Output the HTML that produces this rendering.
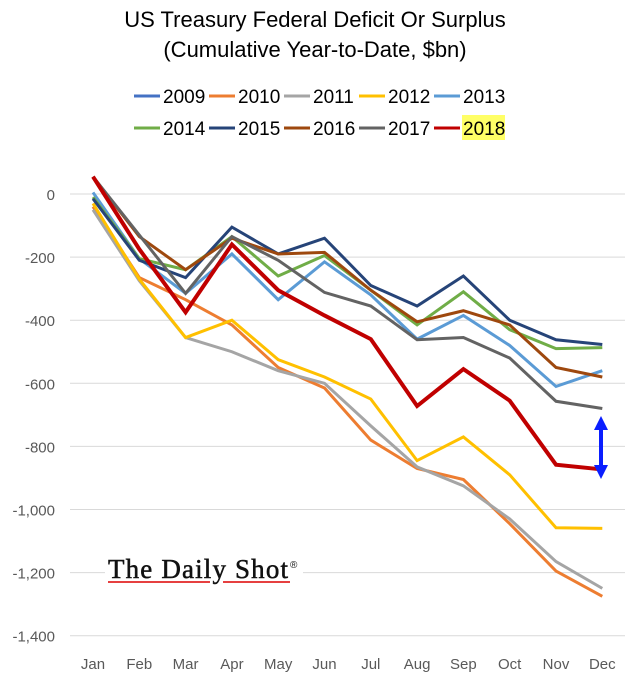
<!DOCTYPE html>
<html><head><meta charset="utf-8"><style>
body{margin:0;background:#fff;}
svg text{font-family:"Liberation Sans",sans-serif;}
</style></head><body>
<svg id="chart" width="629" height="684" xmlns="http://www.w3.org/2000/svg">
<text x="315" y="27" text-anchor="middle" font-size="22" fill="#000">US Treasury Federal Deficit Or Surplus</text>
<text x="315" y="57" text-anchor="middle" font-size="22" fill="#000">(Cumulative Year-to-Date, $bn)</text>
<g id="grid"></g><g id="yticks"></g><g id="xticks"></g>
<g>
<rect x="105" y="554" width="198" height="32" fill="#fff"/>
<text x="108" y="578" font-size="27" fill="#111" stroke="#111" stroke-width="0.5" textLength="180" style="font-family:'Liberation Serif',serif">The Daily Shot</text>
<text x="290" y="568" font-size="10" fill="#111">®</text>
<line x1="108" y1="582" x2="210" y2="582" stroke="#d00" stroke-width="1.5"/>
<line x1="223" y1="582" x2="290" y2="582" stroke="#d00" stroke-width="1.5"/>
</g>
<g id="series"></g><g id="legend"></g>
<g fill="#0a1eff" stroke="#0a1eff">
<line x1="601" y1="428" x2="601" y2="468" stroke-width="4"/>
<polygon points="601,416 594,430 608,430" stroke="none"/>
<polygon points="601,479 594,465 608,465" stroke="none"/>
</g>
</svg>
<script>
const months=["Jan","Feb","Mar","Apr","May","Jun","Jul","Aug","Sep","Oct","Nov","Dec"];
const yTicks=[0,-200,-400,-600,-800,-1000,-1200,-1400];
const yTickLabels=["0","-200","-400","-600","-800","-1,000","-1,200","-1,400"];
const years=["2009","2010","2011","2012","2013","2014","2015","2016","2017","2018"];
const colors=["#4472C4","#ED7D31","#A5A5A5","#FFC000","#5B9BD5","#70AD47","#264478","#9E480E","#636363","#C00000"];
const s2009=[];
const s2010=[-40,-265,-335,-415,-550,-615,-780,-870,-905,-1045,-1195,-1275];
const s2011=[-50,-275,-455,-500,-560,-600,-735,-865,-925,-1030,-1165,-1250];
const s2012=[-30,-270,-455,-400,-525,-580,-650,-845,-770,-890,-1058,-1060];
const s2013=[5,-205,-315,-190,-335,-215,-320,-460,-385,-480,-610,-560];
const s2014=[-10,-205,-240,-135,-260,-195,-305,-415,-310,-430,-490,-487];
const s2015=[-15,-210,-265,-105,-190,-140,-290,-355,-260,-400,-462,-477];
const s2016=[55,-135,-240,-140,-190,-185,-305,-405,-370,-415,-550,-580];
const s2017=[55,-130,-315,-135,-210,-312,-355,-462,-455,-520,-657,-680];
const s2018=[55,-175,-375,-160,-305,-385,-460,-672,-555,-655,-858,-873];
const allSeries=[s2009,s2010,s2011,s2012,s2013,s2014,s2015,s2016,s2017,s2018];
const NS="http://www.w3.org/2000/svg";
const y=v=>194-v/200*63.1;
const x=i=>93+i*46.3;
function mk(t,a,p){const e=document.createElementNS(NS,t);for(const k in a)e.setAttribute(k,a[k]);p.appendChild(e);return e;}
const grid=document.getElementById('grid'),yt=document.getElementById('yticks'),xt=document.getElementById('xticks');
yTicks.forEach((v,i)=>{
 const g=mk('line',{x1:70,x2:625,y1:y(v),y2:y(v),stroke:'#d9d9d9','stroke-width':1},grid);
 
 
 const t=mk('text',{x:55,y:y(v)+6,'text-anchor':'end','font-size':15,fill:'#595959'},yt);
 t.textContent=yTickLabels[i];
 
 
});
months.forEach((m,i)=>{
 const t=mk('text',{x:x(i),y:669,'text-anchor':'middle','font-size':15,fill:'#595959'},xt);
 t.textContent=m;
 
 
});
const sg=document.getElementById('series');
allSeries.forEach((s,k)=>{
 if(!s.length)return;
 const p=mk('polyline',{points:s.map((v,i)=>x(i)+','+y(v)).join(' '),fill:'none',stroke:colors[k],'stroke-width':k==9?4:3,'stroke-linejoin':'miter'},sg);
 
 
});
const lg=document.getElementById('legend');
years.forEach((yr,k)=>{
 const r=Math.floor(k/5),c=k%5;
 const lx=134+c*75,ly=96+r*32;
 const g=mk('g',{},lg);
 
 
 mk('line',{x1:lx,x2:lx+26,y1:ly,y2:ly,stroke:colors[k],'stroke-width':3},g);
 if(k==9)mk('rect',{x:lx+28,y:ly-13,width:43,height:25,fill:'#ffff66'},g);
 const t=mk('text',{x:lx+29,y:ly+7,'font-size':19,fill:'#000'},g);
 t.textContent=yr;
});
</script>
</body></html>
